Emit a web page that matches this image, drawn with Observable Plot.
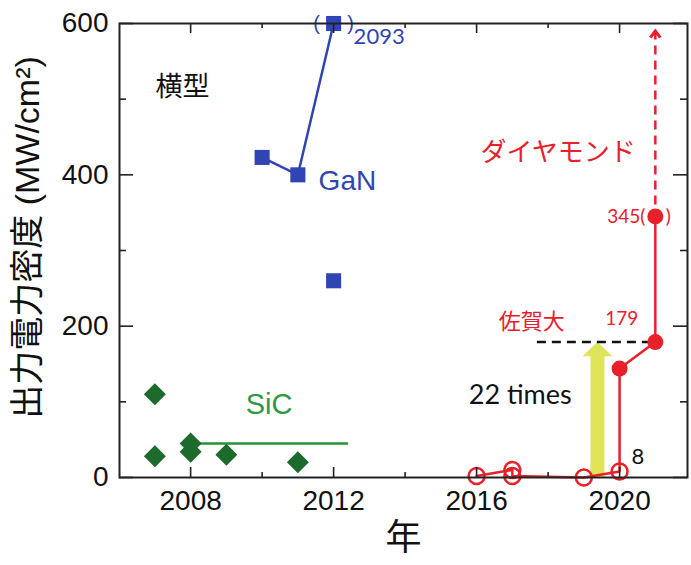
<!DOCTYPE html>
<html><head><meta charset="utf-8">
<script src="https://cdn.jsdelivr.net/npm/d3@7"></script>
<script src="https://cdn.jsdelivr.net/npm/@observablehq/plot@0.6"></script>
<style>body{margin:0;background:#fff}</style>
</head><body><div id="chart"></div>
<script>
// ---- tick values ----
const xTicksMajor = [2008, 2012, 2016, 2020];
const xTicksMinor = [2010, 2014, 2018];
const yTicksMajor = [0, 200, 400, 600];
const yTicksMinor = [100, 300, 500];

// ---- GaN (lateral) ----
const ganYears = [2010, 2011, 2012, 2012];
const ganValues = [423, 400, 600, 260];
const ganOnLine = [true, true, true, false];
const ganRecordLabel = "2093";

// ---- SiC ----
const sicYears = [2007, 2007, 2008, 2008, 2009, 2011];
const sicValues = [110, 28, 45, 34, 30, 20];
const sicRefYears = [2008, 2012.42];
const sicRefValue = 45;

// ---- Diamond ----
const diaYears = [2016, 2017, 2017, 2019, 2020, 2020, 2021, 2021];
const diaValues = [2, 10, 2, 0, 8, 144, 179, 345];
const diaFilled = [false, false, false, false, false, true, true, true];
const diaUpperBound = 590;
const sagaValue = 179;
const sagaBaseValue = 8;
const improvementYear = 2019.38;
const sagaLineYears = [2017.7, 2021.2];

// ---- labels ----
const yLabel = "出力電力密度 (MW/cm²)";
const xLabel = "年";

const gan = ganYears.map((x, i) => ({x, y: ganValues[i], line: ganOnLine[i]}));
const sic = sicYears.map((x, i) => ({x, y: sicValues[i]}));
const dia = diaYears.map((x, i) => ({x, y: diaValues[i], filled: diaFilled[i]}));

const blue = "#2f45b3", red = "#e8202a", green = "#1d6a2d", greenText = "#2e9a45", greenLine = "#2a9038";
const yellow = "#dfe45a";
const sansFont = "'Liberation Sans', Arial, 'Noto Sans CJK JP', sans-serif";
const calFont = "Lato, 'Liberation Sans', sans-serif";

const W = 691, H = 565, mL = 119, mR = 4, mT = 23, mB = 88;
const frameW = W - mL - mR, frameH = H - mT - mB;
const xDomain = [2006.01, 2021.9], yDomain = [0, 600];

const diamondSym = {draw(ctx, size) { const h = Math.sqrt(size / Math.PI); ctx.moveTo(0, -h); ctx.lineTo(h, 0); ctx.lineTo(0, h); ctx.lineTo(-h, 0); ctx.closePath(); }};
const arrowHeadSym = {draw(ctx, size) { const h = Math.sqrt(size / Math.PI); ctx.moveTo(0, 0); ctx.lineTo(h, h * 0.95); ctx.lineTo(-h, h * 0.95); ctx.closePath(); }};
const chevronSym = {draw(ctx, size) { const h = Math.sqrt(size / Math.PI); ctx.moveTo(-h, h * 1.3); ctx.lineTo(0, 0); ctx.lineTo(h, h * 1.3); }};

const ganTop = gan.find(d => d.y === 600);
const d345 = dia[dia.length - 1];
const d179 = dia[dia.length - 2];
const d8 = dia.find(d => d.y === sagaBaseValue);

const tickStyle = {stroke: "#222", strokeWidth: 1.6};
// rules without y1/y2 (or x1/x2) span the frame; pixel insets cut them to short inward ticks
const xTickMarks = (ticks, len) => [
  Plot.ruleX(ticks, {x: d => d, insetTop: frameH - len, ...tickStyle}),
  Plot.ruleX(ticks, {x: d => d, insetBottom: frameH - len, ...tickStyle})
];
const yTickMarks = (ticks, len) => [
  Plot.ruleY(ticks, {y: d => d, insetRight: frameW - len, ...tickStyle}),
  Plot.ruleY(ticks, {y: d => d, insetLeft: frameW - len, ...tickStyle})
];

const chart = Plot.plot({
  width: W, height: H,
  marginLeft: mL, marginRight: mR, marginTop: mT, marginBottom: mB,
  x: {domain: xDomain},
  y: {domain: yDomain},
  style: {fontFamily: sansFont, background: "#fff", color: "#111"},
  marks: [
    // yellow improvement arrow
    Plot.ruleX([improvementYear], {x: d => d, y1: sagaValue, y2: 0, stroke: yellow, strokeWidth: 14, insetTop: 13}),
    Plot.dot([improvementYear], {x: d => d, y: sagaValue, symbol: arrowHeadSym, r: 15, fill: yellow}),
    Plot.ruleY([sagaValue], {y: d => d, x1: sagaLineYears[0], x2: sagaLineYears[1], stroke: "#111", strokeWidth: 2.5, strokeDasharray: "9,6"}),

    // SiC
    Plot.ruleY([sicRefValue], {y: d => d, x1: sicRefYears[0], x2: sicRefYears[1], stroke: greenLine, strokeWidth: 2.5}),
    Plot.dot(sic, {x: "x", y: "y", symbol: diamondSym, r: 11, fill: green}),

    // GaN
    Plot.line(gan.filter(d => d.line), {x: "x", y: "y", stroke: blue, strokeWidth: 2.5}),
    Plot.dot(gan, {x: "x", y: "y", symbol: "square", r: 8.5, fill: blue}),
    Plot.text([ganTop], {x: "x", y: "y", text: () => "(", dx: -17, fill: blue, fontSize: 20}),
    Plot.text([ganTop], {x: "x", y: "y", text: () => ")", dx: 17, fill: blue, fontSize: 20}),
    Plot.text([ganTop], {x: "x", y: "y", text: () => ganRecordLabel, dx: 20, dy: 13, textAnchor: "start", fill: blue, fontSize: 22, fontFamily: calFont}),

    // Diamond
    Plot.ruleX([d345], {x: "x", y1: () => diaUpperBound, y2: "y", stroke: red, strokeWidth: 2.5, strokeDasharray: "9,6"}),
    Plot.dot([d345], {x: "x", y: () => diaUpperBound, symbol: chevronSym, r: 5, stroke: red, strokeWidth: 3, fill: "none"}),
    Plot.line(dia, {x: "x", y: "y", stroke: red, strokeWidth: 2.5}),
    Plot.dot(dia.filter(d => !d.filled), {x: "x", y: "y", r: 8, stroke: red, strokeWidth: 2.5, fill: "none"}),
    Plot.dot(dia.filter(d => d.filled), {x: "x", y: "y", r: 8, fill: red}),
    Plot.text([d345], {x: "x", y: "y", text: d => `${d.y}(`, dx: -10, textAnchor: "end", fill: red, fontSize: 19, fontFamily: calFont}),
    Plot.text([d345], {x: "x", y: "y", text: () => ")", dx: 13, fill: red, fontSize: 19, fontFamily: calFont}),
    Plot.text([d179], {x: "x", y: "y", text: d => `${d.y}`, dx: -50, dy: -23, textAnchor: "start", fill: red, fontSize: 19, fontFamily: calFont}),
    Plot.text([d8], {x: "x", y: "y", text: d => `${d.y}`, dx: 12, dy: -14, textAnchor: "start", fill: "#111", fontSize: 22, fontFamily: calFont}),

    // annotations
    Plot.text(["横型"], {x: () => 2007.02, y: () => 515, text: d => d, textAnchor: "start", fontSize: 27, fill: "#111"}),
    Plot.text(["GaN"], {x: () => 2011.58, y: () => 392, text: d => d, textAnchor: "start", fontSize: 28, fill: blue}),
    Plot.text(["SiC"], {x: () => 2009.54, y: () => 96, text: d => d, textAnchor: "start", fontSize: 29, fill: greenText}),
    Plot.text(["ダイヤモンド"], {x: () => 2016.11, y: () => 429, text: d => d, textAnchor: "start", fontSize: 26, fill: red}),
    Plot.text(["佐賀大"], {x: () => 2016.62, y: () => 205, text: d => d, textAnchor: "start", fontSize: 22, fill: red}),
    Plot.text(["22 times"], {x: () => 2015.78, y: () => 108, text: d => d, textAnchor: "start", fontSize: 27, fill: "#111", fontFamily: calFont}),

    // inward ticks on all four sides
    ...xTickMarks(xTicksMajor, 10),
    ...xTickMarks(xTicksMinor, 5),
    ...yTickMarks(yTicksMajor, 14),
    ...yTickMarks(yTicksMinor, 7),

    // tick labels
    Plot.axisX(xTicksMajor, {anchor: "bottom", tickSize: 0, tickPadding: 13, fontSize: 28, tickFormat: d => String(d), label: null}),
    Plot.axisY(yTicksMajor, {anchor: "left", tickSize: 0, tickPadding: 11, fontSize: 28, tickFormat: d => String(d), label: null}),
    Plot.frame({stroke: "#222", strokeWidth: 2}),

    // axis titles
    Plot.text([yLabel], {frameAnchor: "left", textAnchor: "middle", text: d => d, rotate: -90, dx: -91, dy: -13, fontSize: 34, fill: "#111"}),
    Plot.text([xLabel], {frameAnchor: "bottom", text: d => d, dy: 72, fontSize: 36, fill: "#111"})
  ]
});
document.getElementById("chart").appendChild(chart);
</script>
</body></html>
